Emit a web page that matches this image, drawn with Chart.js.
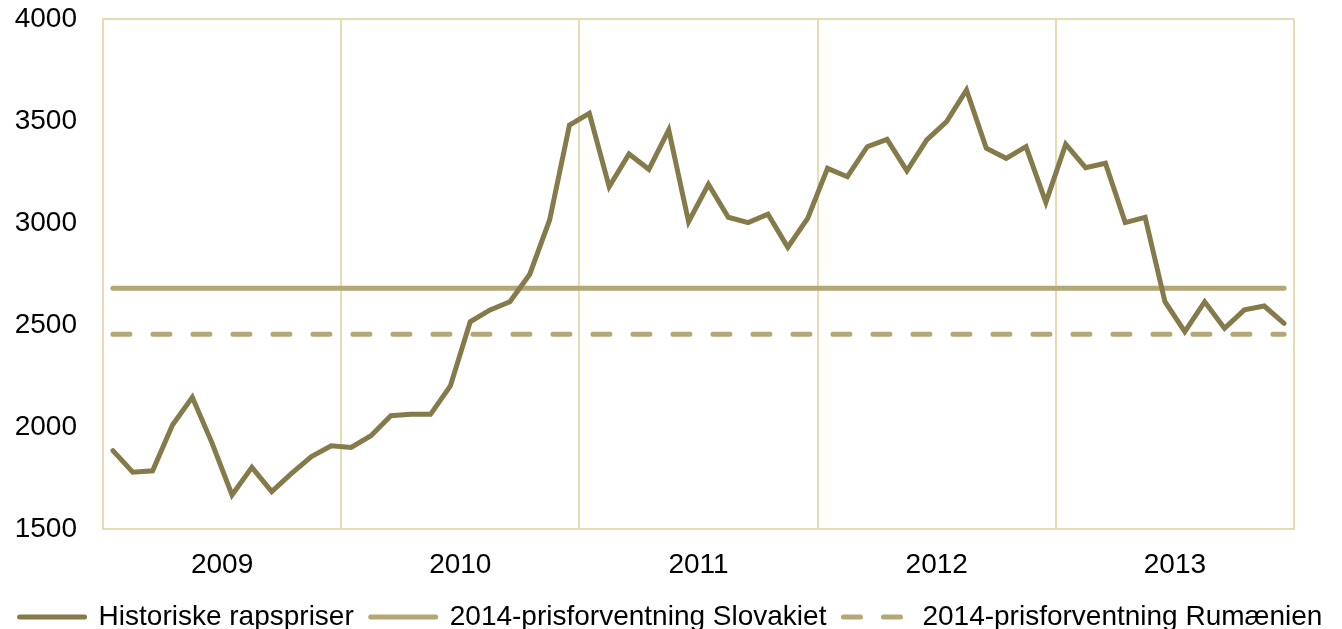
<!DOCTYPE html>
<html>
<head>
<meta charset="utf-8">
<script src="https://cdn.jsdelivr.net/npm/chart.js@4/dist/chart.umd.min.js"></script>
<style>
  html, body { margin: 0; padding: 0; background: #fff; overflow: hidden; }
  #wrap { width: 1342px; height: 641px; }
</style>
</head>
<body>
<div id="wrap"><canvas id="chartCanvas"></canvas></div>
<script>
// years shown under the axis, one month per point
const years = ["2009", "2010", "2011", "2012", "2013"];
const monthNames = ["jan", "feb", "mar", "apr", "maj", "jun", "jul", "aug", "sep", "okt", "nov", "dec"];
const months = years.flatMap(y => monthNames.map(m => m + " " + y));

// historic rapeseed prices
const historicPrices = [
  1884, 1778, 1785, 2010, 2146, 1920, 1667, 1802, 1683, 1773, 1855, 1908,
  1900, 1957, 2055, 2062, 2062, 2201, 2516, 2574, 2614, 2749, 3015, 3480,
  3538, 3178, 3338, 3263, 3456, 3006, 3190, 3028, 3002, 3043, 2881, 3023,
  3268, 3227, 3374, 3410, 3256, 3407, 3497, 3652, 3366, 3317, 3374, 3101,
  3386, 3271, 3293, 3002, 3028, 2614, 2467, 2614, 2484, 2574, 2593, 2508
];

// 2014 price expectations (flat lines)
const forecastSlovakia = 2680;
const forecastRomania = 2455;

const yTicks = [1500, 2000, 2500, 3000, 3500, 4000];

const dark = "#857A4A";
const light = "#B2A775";
const gridColor = "#E6DCB4";

Chart.defaults.font.family = "'Liberation Sans', Arial, sans-serif";
Chart.defaults.font.size = 28;
Chart.defaults.color = "#000";

const ctx = document.getElementById("chartCanvas");

new Chart(ctx, {
  type: "line",
  data: {
    labels: months,
    datasets: [
      {
        label: "Historiske rapspriser",
        data: historicPrices,
        borderColor: dark,
        backgroundColor: dark,
        borderWidth: 5,
        borderCapStyle: "round",
        pointRadius: 0,
        tension: 0,
      },
      {
        label: "2014-prisforventning Slovakiet",
        data: months.map(() => forecastSlovakia),
        borderColor: light,
        backgroundColor: light,
        borderWidth: 5,
        borderCapStyle: "round",
        pointRadius: 0,
      },
      {
        label: "2014-prisforventning Rumænien",
        data: months.map(() => forecastRomania),
        borderColor: light,
        backgroundColor: light,
        borderWidth: 5,
        borderDash: [17, 23],
        borderCapStyle: "round",
        pointRadius: 0,
      },
    ],
  },
  options: {
    responsive: true,
    maintainAspectRatio: false,
    animation: false,
    layout: { padding: { top: 19, right: 0, bottom: 0, left: 0 } },
    scales: {
      x: { display: false, offset: true },
      x2: {
        type: "category",
        labels: years,
        position: "bottom",
        offset: true,
        grid: { offset: true, color: gridColor, lineWidth: 2, drawTicks: false },
        border: { color: gridColor, width: 2 },
        ticks: { padding: 19, maxRotation: 0 },
        afterFit: (scale) => { scale.height = 57; },
      },
      y: {
        min: 1500,
        max: 4000,
        afterBuildTicks: (scale) => { scale.ticks = yTicks.map(v => ({ value: v })); },
        grid: {
          color: (c) => (c.tick && c.tick.value === 4000 ? gridColor : "transparent"),
          lineWidth: 2,
          drawTicks: false,
        },
        border: { color: gridColor, width: 2 },
        ticks: { padding: 26, callback: (v) => String(v) },
        afterFit: (scale) => {
          scale.width = 103;
          scale.paddingTop = 0;
          scale.paddingBottom = 0;
        },
      },
      // empty right-hand axis, only reserves the space right of the plot
      yRight: {
        position: "right",
        min: 1500,
        max: 4000,
        grid: { display: false },
        border: { display: false },
        ticks: { display: false },
        afterFit: (scale) => { scale.width = 48; },
      },
    },
    plugins: {
      legend: {
        position: "bottom",
        labels: {
          usePointStyle: true,
          pointStyle: "line",
          pointStyleWidth: 65,
          padding: 17,
          color: "#000",
          // point style labels lose the dash, so copy it back from the dataset
          generateLabels: (chart) =>
            Chart.defaults.plugins.legend.labels.generateLabels(chart).map((item) => {
              const ds = chart.data.datasets[item.datasetIndex];
              item.lineDash = ds.borderDash || [];
              item.lineCap = "round";
              item.lineWidth = ds.borderWidth;
              item.strokeStyle = ds.borderColor;
              return item;
            }),
        },
      },
      tooltip: { enabled: false },
    },
  },
});
</script>
</body>
</html>
